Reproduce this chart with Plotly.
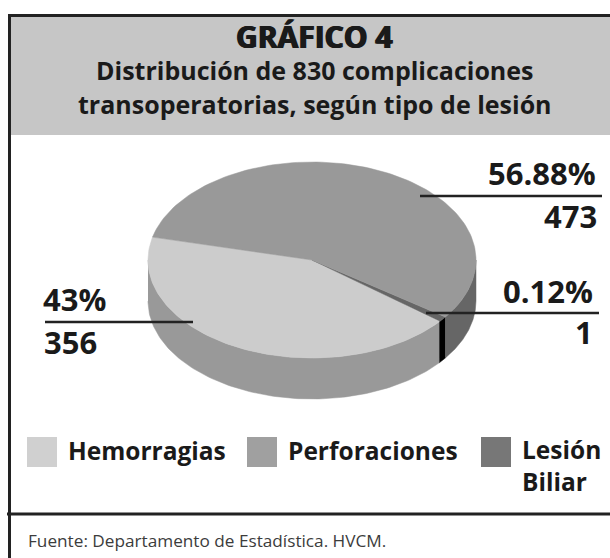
import numpy as np
import plotly.graph_objects as go

categories = ["Hemorragias", "Lesión<br>Biliar", "Perforaciones"]
values = [356, 1, 473]
pct_labels = ["43%", "0.12%", "56.88%"]
top_colors = ["#cccccc", "#666666", "#999999"]
side_colors = ["#999999", "#000000", "#666666"]
legend_names = ["Hemorragias", "Perforaciones", "Lesión<br>Biliar"]
legend_colors = ["#d0d0d0", "#a0a0a0", "#777777"]

FONT = "Open Sans"
CX, CY, RX, RY, DEPTH = 312, 260, 164, 98, 41
START = 166.5
MIN_SLICE = 3.5  # the tiny slice is drawn wider than its true share, as in the original


def arc(t0, t1):
    t = np.radians(np.linspace(t0, t1, 120))
    return CX + RX * np.cos(t), CY - RY * np.sin(t)


# slice angles from the values, perforaciones takes what the widened slice uses up
total = sum(values)
spans = [v / total * 360 for v in values]
spans[2] -= MIN_SLICE - spans[1]
spans[1] = MIN_SLICE

fig = go.Figure()

# side walls first, only the front half can be seen
a = START
for span, col in zip(spans, side_colors):
    lo, hi = max(a, 180), min(a + span, 360)
    if lo < hi:
        x, y = arc(lo, hi)
        fig.add_trace(go.Scatter(
            x=np.r_[x, x[::-1]], y=np.r_[y, y[::-1] + DEPTH],
            fill="toself", fillcolor=col, mode="lines", line=dict(width=0.5, color=col),
            hoverinfo="skip", showlegend=False))
    a += span

# top of the pie
a = START
for span, col, name in zip(spans, top_colors, categories):
    x, y = arc(a, a + span)
    fig.add_trace(go.Scatter(
        x=np.r_[CX, x, CX], y=np.r_[CY, y, CY],
        fill="toself", fillcolor=col, mode="lines", line=dict(width=0.5, color=col),
        name=name, showlegend=False))
    a += span

# legend squares
fig.add_trace(go.Scatter(
    x=[42, 262, 496], y=[452, 452, 452], mode="markers",
    marker=dict(symbol="square", size=30, color=legend_colors, line=dict(width=0)),
    hoverinfo="skip", showlegend=False))

bold = dict(family=FONT, color="#1a1a1a")
notes = [
    (314.5, 70, "<b>Distribución de 830 complicaciones</b>", 25, "center"),
    (314.5, 104, "<b>transoperatorias, según tipo de lesión</b>", 25, "center"),
    (598, 173, f"<b>{pct_labels[2]}</b>", 31, "right"),
    (599, 215.5, f"<b>{values[2]}</b>", 31, "right"),
    (41, 299, f"<b>{pct_labels[0]}</b>", 31, "left"),
    (42, 342, f"<b>{values[0]}</b>", 31, "left"),
    (595, 291, f"<b>{pct_labels[1]}</b>", 31, "right"),
    (595, 332, f"<b>{values[1]}</b>", 31, "right"),
    (65.5, 450, f"<b>{legend_names[0]}</b>", 24.5, "left"),
    (286, 450, f"<b>{legend_names[1]}</b>", 24.5, "left"),
    (520, 465, f"<b>{legend_names[2]}</b>", 24.5, "left"),
]
for x, y, txt, size, anchor in notes:
    fig.add_annotation(x=x, y=y, text=txt, showarrow=False, xanchor=anchor, yanchor="middle",
                       align=anchor, font=dict(size=size, **bold))
# the heading is a black weight in the original, the shadow thickens the bold
fig.add_annotation(x=314, y=36, text="<b>GRÁFICO 4</b>", showarrow=False, xanchor="center", yanchor="middle",
                   font=dict(family=FONT, size=30, color="#1a1a1a",
                             shadow="0.8px 0 0 #1a1a1a, -0.8px 0 0 #1a1a1a"))
fig.add_annotation(x=26, y=540, text="Fuente: Departamento de Estadística. HVCM.", showarrow=False,
                   xanchor="left", yanchor="middle", font=dict(family=FONT, size=17.2, color="#3c3c3c"))

frame = dict(color="#222222", width=3)
lead = dict(color="#222222", width=2.5)
shapes = [
    dict(type="rect", x0=9.5, x1=610, y0=15.5, y1=135, fillcolor="#c6c6c6", line=dict(width=0), layer="below"),
    dict(type="line", x0=9.5, x1=9.5, y0=14, y1=558, line=frame),
    dict(type="line", x0=8, x1=610, y0=15.5, y1=15.5, line=frame),
    dict(type="line", x0=7, x1=610, y0=514, y1=514, line=frame),
    dict(type="line", x0=420, x1=602, y0=196, y1=196, line=lead),
    dict(type="line", x0=45, x1=193, y0=322, y1=322, line=lead),
    dict(type="line", x0=426, x1=599, y0=313, y1=313, line=lead),
]

fig.update_layout(
    width=610, height=558, margin=dict(l=0, r=0, t=0, b=0),
    paper_bgcolor="white", plot_bgcolor="white", shapes=shapes,
    xaxis=dict(range=[0, 610], visible=False, fixedrange=True),
    yaxis=dict(range=[558, 0], visible=False, fixedrange=True),
)
fig.write_html("out.html", config=dict(displayModeBar=False),
               post_script="document.body.style.margin='0';document.body.style.overflow='hidden';")
